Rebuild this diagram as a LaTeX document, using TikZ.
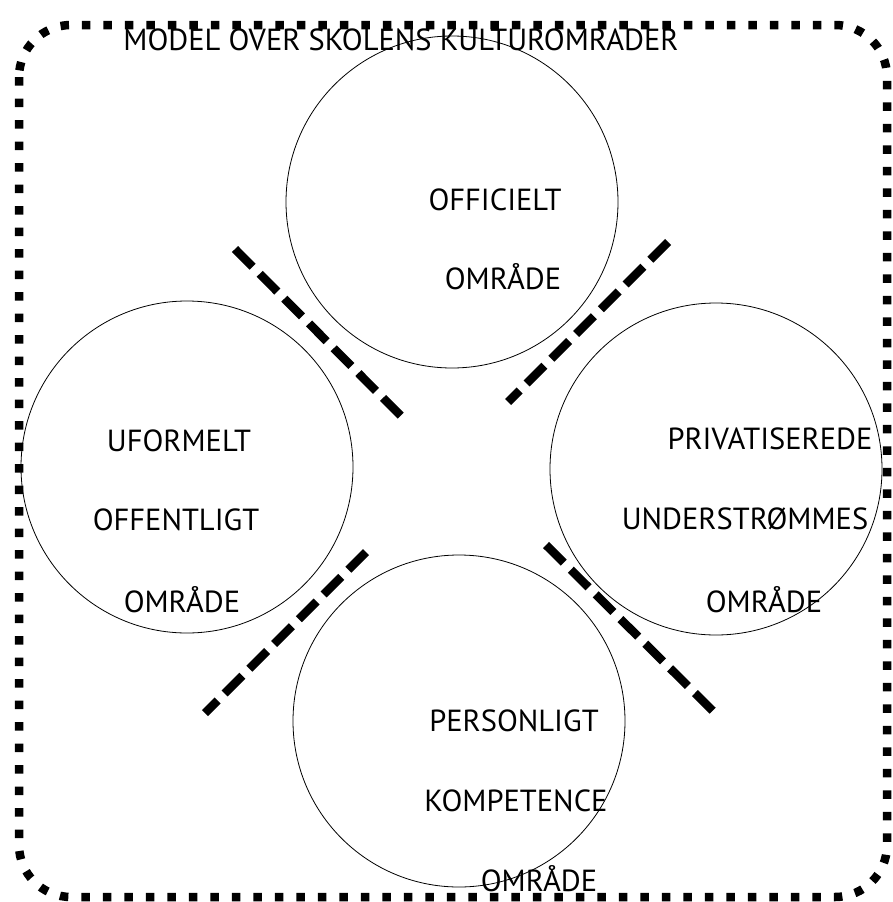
\documentclass[tikz,border=0pt]{standalone}
\usepackage{fontspec}
\setmainfont{PT Sans}
\usetikzlibrary{calc}
\tikzset{
	omr/.style={draw, circle, line width=0.8pt, minimum size=332pt, inner sep=0pt},
	lbl/.style={anchor=base, inner sep=0pt, font=\fontsize{30.5}{36}\selectfont},
	skel/.style={line width=8.5pt, dash pattern=on 25pt off 10pt},
	ramme/.style={line width=8.5pt, dash pattern=on 8.5pt off 13pt, rounded corners=52pt}
}

\begin{document}
\begin{tikzpicture}[x=1pt, y=-1pt]
		%%%%% START %%%%%
		\useasboundingbox (0, 0) rectangle (893, 902);
		
		\draw[ramme] (19, 25) rectangle (887, 897);
		
		\node[omr] (officielt) at (452, 202) {};
		\node[omr] (uformelt) at (187, 467) {};
		\node[omr] (privat) at (716, 469) {};
		\node[omr] (personligt) at (459, 721) {};
		
		\draw[skel] (235, 249) -- (403, 418);
		\draw[skel] (668, 242) -- (508, 402);
		\draw[skel] (366, 552) -- (205, 713);
		\draw[skel] (546, 545) -- (714, 712);
		
		\node[lbl] (titel) at (401, 50) {MODEL OVER SKOLENS KULTUROMRADER};
		
		\node[lbl] (off1) at (495, 210) {OFFICIELT};
		\node[lbl] (off2) at (503, 289) {OMRÅDE};
		
		\node[lbl] (ufo1) at (179, 451) {UFORMELT};
		\node[lbl] (ufo2) at (176, 530) {OFFENTLIGT};
		\node[lbl] (ufo3) at (182, 612) {OMRÅDE};
		
		\node[lbl] (pri1) at (770, 449) {PRIVATISEREDE};
		\node[lbl] (pri2) at (745, 529) {UNDERSTRØMMES};
		\node[lbl] (pri3) at (764, 612) {OMRÅDE};
		
		\node[lbl] (per1) at (514, 731) {PERSONLIGT};
		\node[lbl] (per2) at (516, 811) {KOMPETENCE};
		\node[lbl] (per3) at (539, 891) {OMRÅDE};
		
		%%%%% END %%%%%
	\end{tikzpicture}
\end{document}
